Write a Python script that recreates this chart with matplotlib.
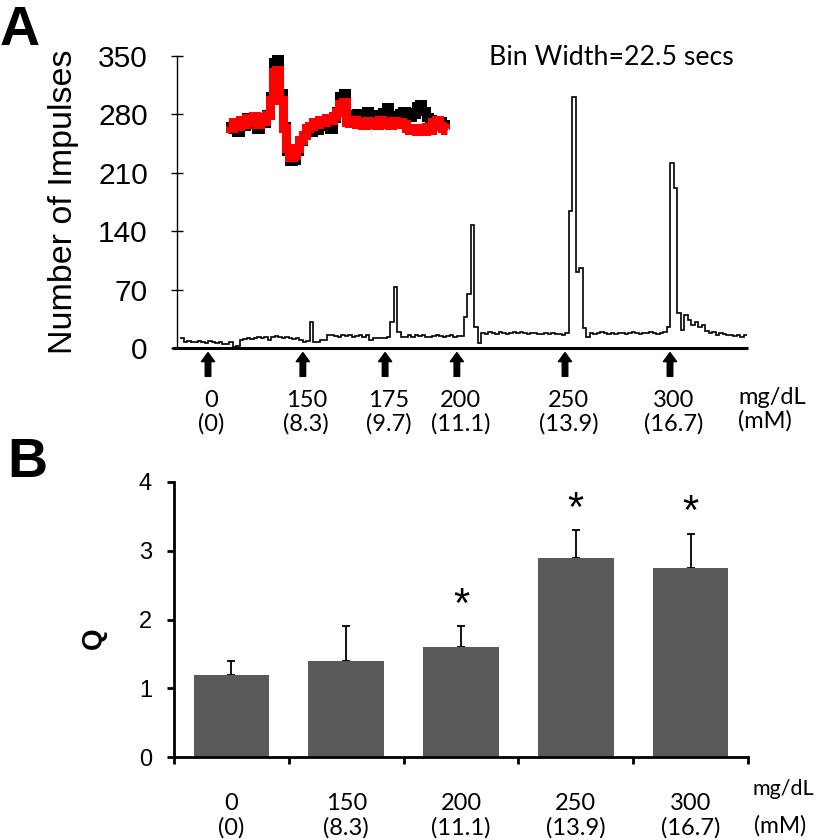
import numpy as np
import matplotlib
matplotlib.use("Agg")
import matplotlib.pyplot as plt
from matplotlib.transforms import blended_transform_factory

# ---------------- data ----------------
# Panel A: peristimulus histogram, impulses per 22.5 s bin
impulses = [12,
            7, 8, 7, 7, 8, 7,
            6, 8, 7, 6, 7,
            5, 5, 7, 1, 2, 10,
            11, 12, 11, 12,
            13, 12, 13, 10,
            13, 14, 13, 12, 13, 12, 11, 12,
            10, 7, 8, 31, 7, 7,
            10, 10, 15,
            15, 14, 13, 15, 14, 15, 13, 14, 15, 13,
            15, 9, 12,
            12, 12, 12, 13,
            31, 73, 19, 13, 13, 15, 13, 16,
            14, 15, 13, 13, 14, 15, 14, 13, 14, 15, 13, 14,
            14, 37, 65, 148, 25, 6,
            18, 17, 19, 18, 17, 19, 18, 17, 18, 19, 18, 19, 18, 17, 18, 18, 17, 17, 18, 17, 18, 17, 17, 16, 18,
            164, 301, 91, 96, 24, 13,
            18, 17, 18, 19, 18, 17, 18, 17, 18, 18, 17, 18, 19, 18, 17, 18, 18, 19, 18, 17, 18, 19,
            25, 222, 192, 42, 21, 40, 33, 27, 31, 25, 27, 20,
            18, 19, 16, 18, 17, 15, 16, 14, 16, 13, 15]
arrow_bins = [8, 35.1, 58.6, 79.1, 110, 140]
a_mgdl = ["0", "150", "175", "200", "250", "300"]
a_mm = ["(0)", "(8.3)", "(9.7)", "(11.1)", "(13.9)", "(16.7)"]
a_yticks = [0, 70, 140, 210, 280, 350]

# inset: averaged action potential waveforms (arbitrary units)
spike_red = [-0.03, -0.08, 0.02, -0.05, 0.05, -0.02, 0.08, 0.02, 0.11, -0.02, 0.08, 0.03, 0.13,
             0.38, 0.84, 0.87, 0.38, -0.08, -0.41, -0.56, -0.52, -0.41, -0.28, -0.20, -0.08,
             -0.05, 0.02, -0.02, 0.05, 0.02, 0.08, 0.05, 0.11, 0.18, 0.31, 0.34, 0.02, 0.00,
             0.05, -0.02, 0.02, -0.03, 0.03, -0.02, 0.02, -0.03, 0.05, -0.02, 0.02, -0.03, 0.03,
             -0.02, 0.02, -0.02, -0.08, -0.11, -0.08, -0.13, -0.08, -0.13, -0.07, -0.11, 0.02,
             0.05, -0.05, -0.08, -0.11]
spike_black = [-0.10, -0.05, 0.02, -0.14, 0.04, -0.05, 0.10, -0.02, 0.12, -0.10, 0.10, 0.00, 0.15,
               0.45, 1.00, 1.05, 0.50, -0.05, -0.45, -0.62, -0.60, -0.45, -0.30, -0.20, -0.10,
               -0.15, -0.02, -0.12, 0.02, -0.05, 0.05, -0.10, 0.08, 0.20, 0.45, 0.50, 0.15, 0.13,
               0.12, 0.16, 0.10, 0.14, 0.20, 0.12, 0.12, 0.15, 0.10, 0.18, 0.26, 0.12, 0.13,
               0.10, 0.16, 0.20, 0.18, 0.10, 0.15, 0.28, 0.32, 0.20, 0.10, 0.06, 0.02,
               0.05, 0.03, -0.02, -0.05]

# Panel B: Q values
b_mgdl = ["0", "150", "200", "250", "300"]
b_mm = ["(0)", "(8.3)", "(11.1)", "(13.9)", "(16.7)"]
q_mean = [1.2, 1.4, 1.6, 2.9, 2.75]
q_err = [0.2, 0.5, 0.3, 0.4, 0.5]
q_sig = [False, False, True, True, True]
b_yticks = [0, 1, 2, 3, 4]

# ---------------- layout helpers ----------------
W, H = 819, 840
fig = plt.figure(figsize=(W / 100, H / 100), dpi=100)


def fx(px):
    return px / W


def fy(py):
    return 1 - py / H


CAL = ['Lato', 'DejaVu Sans']
ARI = ['Liberation Sans', 'DejaVu Sans']

# ---------------- Panel A ----------------
bin_px = 3.5
axA = fig.add_axes([fx(177), fy(348), fx(748) - fx(177), fy(56) - fy(348)])
x0 = -3 / bin_px
x1 = x0 + (748 - 177) / bin_px
edges = np.arange(len(impulses) + 1)
axA.stairs(impulses, edges, baseline=None, color='black', lw=1.2)
axA.set_xlim(x0, x1)
axA.set_ylim(0, 350)
for s in ['top', 'right', 'bottom']:
    axA.spines[s].set_visible(False)
axA.spines['left'].set_linewidth(1.0)
axA.set_xticks([])
axA.set_yticks(a_yticks)
axA.tick_params(axis='y', direction='inout', length=8, width=1.0, pad=17,
                labelsize=21.5)
for lab in axA.get_yticklabels():
    lab.set_family(ARI)
axA.plot([x0 - 5 / bin_px, x1], [0, 0], color='black', lw=2.2, clip_on=False,
         solid_capstyle='butt')

for b in arrow_bins:
    axA.annotate('', xy=(b, -5.5), xytext=(b, -34), xycoords='data',
                 arrowprops=dict(facecolor='black', edgecolor='black', width=4.0,
                                 headwidth=9.5, headlength=6.5, shrink=0),
                 annotation_clip=False)

trA = blended_transform_factory(axA.transData, fig.transFigure)
for b, t1, t2 in zip(arrow_bins, a_mgdl, a_mm):
    axA.text(b + 1.0, fy(407), t1, transform=trA, ha='center', va='baseline',
             fontsize=17, family=CAL)
    axA.text(b + 1.0, fy(431), t2, transform=trA, ha='center', va='baseline',
             fontsize=17, family=CAL)
fig.text(fx(738), fy(404), "mg/dL", ha='left', va='baseline', fontsize=17, family=CAL)
fig.text(fx(738), fy(428), "(mM)", ha='left', va='baseline', fontsize=17, family=CAL)

fig.text(fx(489), fy(65), "Bin Width=22.5 secs", ha='left', va='baseline',
         fontsize=19.3, family=CAL)

fig.text(fx(64), fy(202), "Number of Impulses", rotation=90, ha='center',
         va='center', fontsize=24.5, family=ARI)
fig.text(fx(0), fy(45), "A", ha='left', va='baseline', fontsize=40,
         fontweight='bold', family=ARI)

# inset waveform
axI = fig.add_axes([fx(222), fy(172), fx(452) - fx(222), fy(48) - fy(172)])
xs = np.arange(len(spike_red))
axI.plot(xs, spike_black, color='black', lw=6.5, drawstyle='steps-mid',
         solid_joinstyle='miter', solid_capstyle='butt')
axI.plot(xs, spike_red, color='#ff0000', lw=6.5, drawstyle='steps-mid',
         solid_joinstyle='miter', solid_capstyle='butt')
axI.set_xlim((222 - 228) / 3.32, (452 - 228) / 3.32)
axI.set_ylim(-0.80, 1.23)
axI.axis('off')

# ---------------- Panel B ----------------
axB = fig.add_axes([fx(174), fy(757), fx(748) - fx(174), fy(482) - fy(757)])
xb = np.arange(len(q_mean))
axB.bar(xb, q_mean, width=0.66, color='#595959', zorder=2)
axB.errorbar(xb, q_mean, yerr=[np.zeros(len(q_err)), q_err], fmt='none',
             ecolor='black', elinewidth=1.3, capsize=3, capthick=1.3, zorder=1)
for xi, m, e, s in zip(xb, q_mean, q_err, q_sig):
    if s:
        axB.text(xi, m + e + 0.30, '*', ha='center', va='center', fontsize=30,
                 family=ARI)
axB.set_xlim(-0.5, 4.5)
axB.set_ylim(0, 4)
for s in ['top', 'right']:
    axB.spines[s].set_visible(False)
for s in ['left', 'bottom']:
    axB.spines[s].set_linewidth(2.0)
axB.set_xticks(np.arange(-0.5, 5, 1.0))
axB.set_xticklabels([])
axB.set_yticks(b_yticks)
axB.tick_params(axis='x', direction='out', length=5, width=2)
axB.tick_params(axis='y', direction='out', length=5, width=2, pad=10.8,
                labelsize=17)
for lab in axB.get_yticklabels():
    lab.set_family(ARI)

trB = blended_transform_factory(axB.transData, fig.transFigure)
for xi, t1, t2 in zip(xb, b_mgdl, b_mm):
    axB.text(xi, fy(810), t1, transform=trB, ha='center', va='baseline',
             fontsize=17, family=CAL)
    axB.text(xi, fy(835), t2, transform=trB, ha='center', va='baseline',
             fontsize=17, family=CAL)
fig.text(fx(752), fy(795), "mg/dL", ha='left', va='baseline', fontsize=15.5, family=CAL)
fig.text(fx(754), fy(833), "(mM)", ha='left', va='baseline', fontsize=16.5, family=CAL)

fig.text(fx(94), fy(638), "Q", rotation=90, ha='center', va='center',
         fontsize=20, fontweight='bold', family=ARI)
fig.text(fx(7), fy(477), "B", ha='left', va='baseline', fontsize=40,
         fontweight='bold', family=ARI)

fig.savefig("out.png", dpi=100)
